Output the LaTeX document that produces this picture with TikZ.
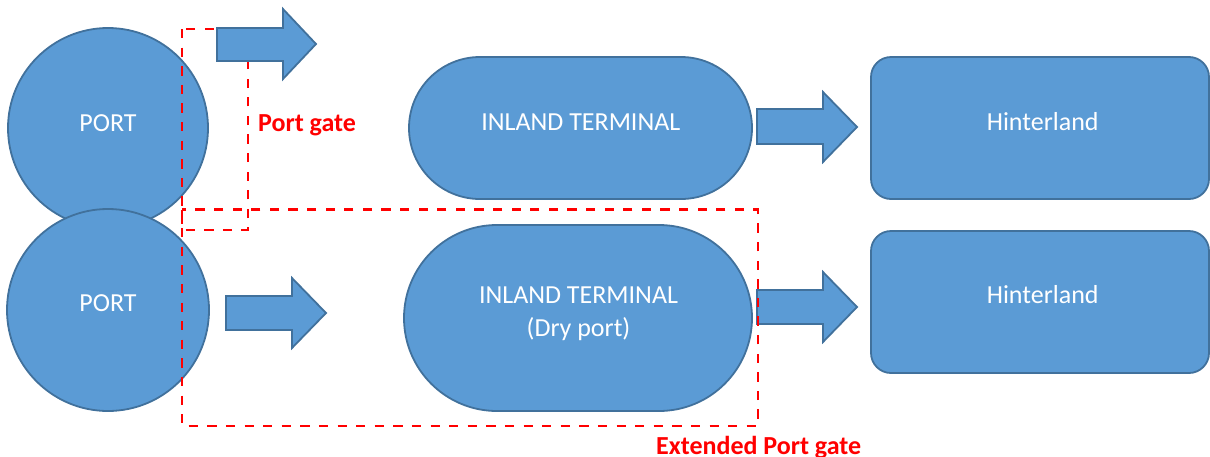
\documentclass[tikz,border=0pt]{standalone}
\usepackage{fontspec}
\setmainfont{Carlito}
\begin{document}
\begin{tikzpicture}[x=1pt,y=-1pt,
  blue/.style={draw=strokeblue, fill=fillblue, line width=1.8pt},
  port/.style={blue, circle, inner sep=0pt},
  stad/.style={blue, rectangle, inner sep=0pt},
  hbox/.style={blue, rectangle, rounded corners=20pt, inner sep=0pt},
  wtxt/.style={text=white, font=\fontsize{26}{31}\selectfont, inner sep=0pt, anchor=base},
  rtxt/.style={text=gatered, font=\fontsize{26}{31}\selectfont\bfseries, inner sep=0pt, anchor=base west},
  gate/.style={draw=gatered, line width=2.5pt, dash pattern=on 9.3pt off 9.3pt},
  blk/.style={blue, line join=miter}]
\definecolor{fillblue}{HTML}{5B9BD5}
\definecolor{strokeblue}{HTML}{41719C}
\definecolor{gatered}{HTML}{FF0000}
\useasboundingbox (0,0) rectangle (1210,456);

% ports
\node[port, minimum size=200pt] (port1) at (108,128) {};
\node[port, minimum size=202pt] (port2) at (108,310) {};
\node[wtxt] (port1t) at (108,131.5) {PORT};
\node[wtxt] (port2t) at (108,311.5) {PORT};

% inland terminals
\node[stad, minimum width=343pt, minimum height=142pt, rounded corners=71pt] (it1) at (580.5,128) {};
\node[stad, minimum width=348pt, minimum height=186pt, rounded corners=93pt] (it2) at (578,318) {};
\node[wtxt] (it1t) at (580.8,130.5) {INLAND TERMINAL};
\node[wtxt] (it2t) at (578.5,303.5) {INLAND TERMINAL};
\node[wtxt] (it2u) at (578.5,336.5) {(Dry port)};

% hinterland
\node[hbox, minimum width=338pt, minimum height=142pt] (h1) at (1040,128) {};
\node[hbox, minimum width=338pt, minimum height=142pt] (h2) at (1040,302) {};
\node[wtxt] (h1t) at (1042.7,130.5) {Hinterland};
\node[wtxt] (h2t) at (1042.7,303.5) {Hinterland};

% port gate rectangle
\coordinate (pg1) at (182,29);
\coordinate (pg2) at (248,230);
\draw[gate] (pg1) rectangle (pg2);

% block arrows
\draw[blk] (217,28) -- (283,28) -- (283,9) -- (316,44) -- (283,79) -- (283,61) -- (217,61) -- cycle;
\draw[blk] (226,296) -- (292,296) -- (292,278) -- (326,313) -- (292,348) -- (292,330) -- (226,330) -- cycle;
\draw[blk] (757,109) -- (823,109) -- (823,92) -- (857,127) -- (823,162) -- (823,144) -- (757,144) -- cycle;
\draw[blk] (757,290) -- (823,290) -- (823,272) -- (857,307) -- (823,342) -- (823,324) -- (757,324) -- cycle;

% extended port gate rectangle
\coordinate (eg1) at (182,209.5);
\coordinate (eg2) at (758,426);
\draw[gate] (eg1) rectangle (eg2);

% labels
\node[rtxt] (pgl) at (258,131) {Port gate};
\node[rtxt] (egl) at (656,454) {Extended Port gate};
\end{tikzpicture}
\end{document}
